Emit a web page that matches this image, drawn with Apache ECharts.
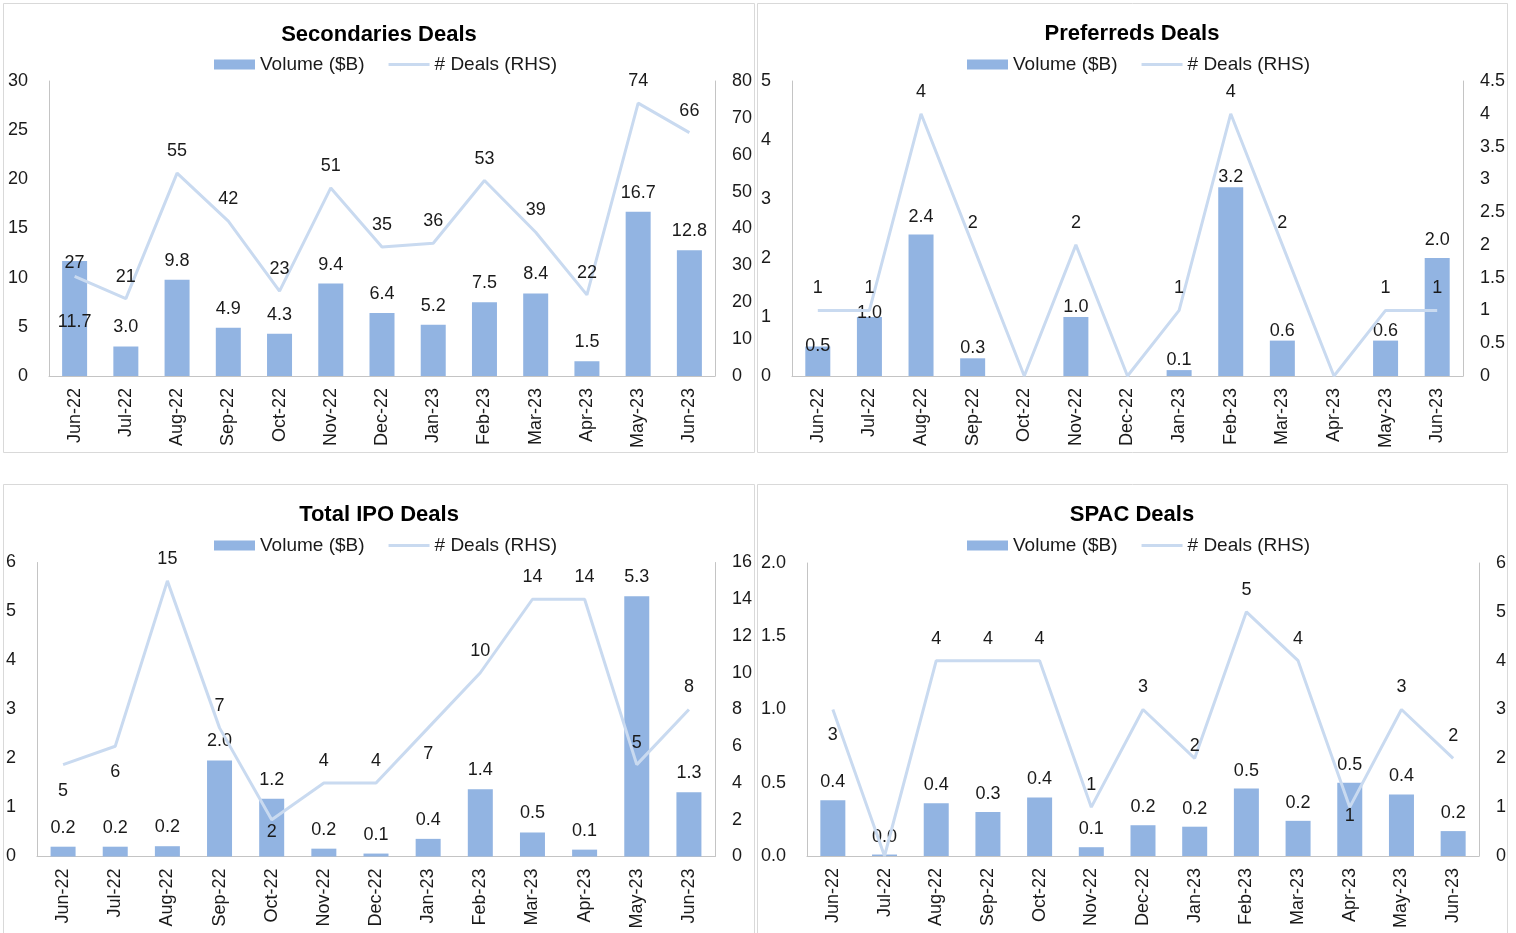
<!DOCTYPE html>
<html>
<head>
<meta charset="utf-8">
<title>Deals</title>
<script src="https://cdn.jsdelivr.net/npm/echarts@6/dist/echarts.min.js"></script>
<style>
  html, body { margin: 0; padding: 0; background: #fff; }
  #chart { width: 1516px; height: 933px; }
</style>
</head>
<body>
<div id="chart"></div>
<script>
const months = ['Jun-22', 'Jul-22', 'Aug-22', 'Sep-22', 'Oct-22', 'Nov-22', 'Dec-22',
  'Jan-23', 'Feb-23', 'Mar-23', 'Apr-23', 'May-23', 'Jun-23'];

const secVolume = [11.7, 3.0, 9.8, 4.9, 4.3, 9.4, 6.4, 5.2, 7.5, 8.4, 1.5, 16.7, 12.8];
const secDeals = [27, 21, 55, 42, 23, 51, 35, 36, 53, 39, 22, 74, 66];

const prefVolume = [0.5, 1.0, 2.4, 0.3, 0, 1.0, 0, 0.1, 3.2, 0.6, 0, 0.6, 2.0];
const prefDeals = [1, 1, 4, 2, 0, 2, 0, 1, 4, 2, 0, 1, 1];

const ipoVolume = [0.2, 0.2, 0.21, 1.96, 1.18, 0.16, 0.06, 0.36, 1.37, 0.49, 0.14, 5.31, 1.31];
const ipoDeals = [5, 6, 15, 7, 2, 4, 4, 7, 10, 14, 14, 5, 8];

const spacVolume = [0.38, 0.01, 0.36, 0.30, 0.40, 0.06, 0.21, 0.20, 0.46, 0.24, 0.50, 0.42, 0.17];
const spacDeals = [3, 0, 4, 4, 4, 1, 3, 2, 5, 4, 1, 3, 2];

const FONT = '"Liberation Sans", Arial, sans-serif';
const TEXT = '#1a1a1a';
const BAR_COLOR = '#92b4e2';
const LINE_COLOR = '#c9daf0';
const AXIS_COLOR = '#c4c4c4';

const panels = [
  {
    title: 'Secondaries Deals', volume: secVolume, deals: secDeals,
    box: [3.5, 3.5, 751, 449], titleX: 379, titleY: 24, legendX: 214, legendY: 55,
    grid: { left: 49, top: 81, width: 666, height: 295 },
    left: { max: 30, interval: 5 }, right: { max: 80, interval: 10 },
    barDist: 10,
    barTweaks: { 0: { position: 'inside', offset: [0, 4] } },
    lineTweaks: { 0: { distance: 4 } }
  },
  {
    title: 'Preferreds Deals', volume: prefVolume, deals: prefDeals,
    box: [757.5, 3.5, 750, 449], titleX: 1132, titleY: 23, legendX: 967, legendY: 55,
    grid: { left: 792, top: 81, width: 671, height: 295 },
    left: { max: 5, interval: 1 }, right: { max: 4.5, interval: 0.5 },
    barDist: 1,
    barTweaks: { 0: { distance: -9 }, 1: { distance: -5 }, 2: { distance: 8 }, 12: { distance: 9 } },
    lineTweaks: {}
  },
  {
    title: 'Total IPO Deals', volume: ipoVolume, deals: ipoDeals,
    box: [3.5, 484.5, 751, 460], titleX: 379, titleY: 504, legendX: 214, legendY: 536,
    grid: { left: 37, top: 562.5, width: 678, height: 294 },
    left: { max: 6, interval: 1 }, right: { max: 16, interval: 2 },
    barDist: 10,
    barTweaks: {},
    lineTweaks: {
      0: { position: 'bottom', distance: 17 },
      1: { position: 'bottom', distance: 17 },
      4: { position: 'bottom', distance: 3 },
      7: { position: 'bottom', distance: 17 }
    }
  },
  {
    title: 'SPAC Deals', volume: spacVolume, deals: spacDeals,
    box: [757.5, 484.5, 750, 460], titleX: 1132, titleY: 504, legendX: 967, legendY: 536,
    grid: { left: 807, top: 563, width: 672, height: 293 },
    left: { max: 2, interval: 0.5, fmt: v => v.toFixed(1) }, right: { max: 6, interval: 1 },
    barDist: 9,
    barTweaks: {},
    lineTweaks: {
      0: { position: 'bottom', distance: 17 },
      7: { distance: 3 },
      10: { position: 'bottom', distance: 0 }
    }
  }
];

function withTweaks(values, tweaks) {
  return values.map((v, i) => (tweaks[i] ? { value: v, label: tweaks[i] } : v));
}

const option = {
  backgroundColor: '#fff',
  animation: false,
  textStyle: { fontFamily: FONT },
  title: [],
  legend: [],
  grid: [],
  xAxis: [],
  yAxis: [],
  series: [],
  graphic: []
};

panels.forEach((p, i) => {
  option.graphic.push({
    type: 'rect',
    shape: { x: p.box[0], y: p.box[1], width: p.box[2], height: p.box[3] },
    style: { fill: 'none', stroke: '#d9d9d9', lineWidth: 1 },
    silent: true
  });

  option.title.push({
    text: p.title,
    left: p.titleX,
    top: p.titleY,
    textAlign: 'center',
    padding: 0,
    textStyle: { fontFamily: FONT, fontSize: 22, fontWeight: 'bold', color: '#000' }
  });

  option.legend.push({
    left: p.legendX,
    top: p.legendY,
    padding: 0,
    itemWidth: 41,
    itemHeight: 10,
    itemGap: 24,
    textStyle: { fontFamily: FONT, fontSize: 19, color: TEXT },
    data: [
      { name: 'Volume ($B)', icon: 'rect' },
      { name: '# Deals (RHS)', icon: 'path://M0,0 L41,0 L41,3 L0,3 Z' }
    ]
  });

  option.grid.push(p.grid);

  option.xAxis.push({
    type: 'category',
    gridIndex: i,
    data: months,
    axisLine: { lineStyle: { color: AXIS_COLOR } },
    axisTick: { show: false },
    axisLabel: { rotate: 90, margin: 12, fontFamily: FONT, fontSize: 18, color: TEXT }
  });

  option.yAxis.push({
    type: 'value',
    gridIndex: i,
    position: 'left',
    min: 0,
    max: p.left.max,
    interval: p.left.interval,
    splitLine: { show: false },
    axisTick: { show: false },
    axisLine: { show: true, lineStyle: { color: AXIS_COLOR } },
    axisLabel: {
      margin: 21, padding: [4, 0, 0, 0],
      fontFamily: FONT, fontSize: 18, color: TEXT, formatter: p.left.fmt
    }
  }, {
    type: 'value',
    gridIndex: i,
    position: 'right',
    min: 0,
    max: p.right.max,
    interval: p.right.interval,
    splitLine: { show: false },
    axisTick: { show: false },
    axisLine: { show: true, lineStyle: { color: AXIS_COLOR } },
    axisLabel: { margin: 17, padding: [4, 0, 0, 0], fontFamily: FONT, fontSize: 18, color: TEXT }
  });

  option.series.push({
    name: 'Volume ($B)',
    type: 'bar',
    xAxisIndex: i,
    yAxisIndex: i * 2,
    barWidth: 25,
    itemStyle: { color: BAR_COLOR },
    label: {
      show: true,
      position: 'top',
      distance: p.barDist,
      fontFamily: FONT,
      fontSize: 18,
      color: TEXT,
      formatter: d => (d.value === 0 ? '' : d.value.toFixed(1))
    },
    data: withTweaks(p.volume, p.barTweaks)
  }, {
    name: '# Deals (RHS)',
    type: 'line',
    xAxisIndex: i,
    yAxisIndex: i * 2 + 1,
    symbol: 'circle',
    symbolSize: 0,
    showSymbol: true,
    lineStyle: { color: LINE_COLOR, width: 3 },
    itemStyle: { color: LINE_COLOR },
    label: {
      show: true,
      position: 'top',
      distance: 13,
      fontFamily: FONT,
      fontSize: 18,
      color: TEXT,
      formatter: d => (d.value === 0 ? '' : String(d.value))
    },
    z: 3,
    data: withTweaks(p.deals, p.lineTweaks)
  });
});

const chart = echarts.init(document.getElementById('chart'));
chart.setOption(option);
</script>
</body>
</html>
